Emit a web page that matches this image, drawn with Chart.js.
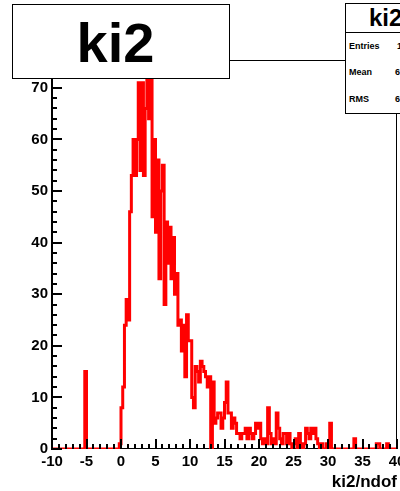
<!DOCTYPE html>
<html><head><meta charset="utf-8">
<script src="https://cdn.jsdelivr.net/npm/chart.js@4.4.0/dist/chart.umd.min.js"></script>
<style>
html,body{margin:0;padding:0;background:#fff;}
#wrap{position:relative;width:400px;height:491px;overflow:hidden;background:#fff;}
#c{position:absolute;left:0;top:0;}
.box{position:absolute;background:#fff;border:1px solid #000;box-sizing:border-box;font-family:"Liberation Sans",Arial,Helvetica,sans-serif;font-weight:bold;color:#000;}
.t{position:absolute;white-space:nowrap;}
</style></head>
<body>
<div id="wrap">
<canvas id="c" width="400" height="491"></canvas>
<div class="box" style="left:12px;top:4px;width:218px;height:75px;">
  <div class="t" style="left:-11px;right:0;top:10px;text-align:center;font-size:56px;line-height:56px;">ki2</div>
</div>
<div class="box" style="left:345px;top:3px;width:80px;height:111px;">
  <div class="t" style="left:23px;top:2px;font-size:24px;line-height:24px;">ki2</div>
  <div style="position:absolute;left:0;right:0;top:28px;height:1px;background:#000;"></div>
  <div class="t" style="left:3px;top:38px;font-size:9px;line-height:9px;">Entries</div>
  <div class="t" style="left:51px;top:38px;font-size:9px;line-height:9px;">1563</div>
  <div class="t" style="left:3px;top:64px;font-size:9px;line-height:9px;">Mean</div>
  <div class="t" style="left:49px;top:64px;font-size:9px;line-height:9px;">6.473</div>
  <div class="t" style="left:3px;top:91px;font-size:9px;line-height:9px;">RMS</div>
  <div class="t" style="left:49px;top:91px;font-size:9px;line-height:9px;">6.035</div>
</div>
</div>
<script>
// Histogram definition
const xMin = -10;
const xMax = 40;
const binWidth = 0.25;
const yMax = 75.4;
const xTickStep = 5;
const xMinorStep = 1;
const yTickStep = 10;
const yMinorStep = 2;
const xTitle = 'ki2/ndof';

// bin contents, 200 bins of 0.25 starting at -10
const countsNeg10to5 = [0,0,0,0,0,0,0,0,0,0,0,0,0,0,0,0,0,0,0,0];
const countsNeg5to0  = [15,0,0,0,0,0,0,0,0,0,0,0,0,0,0,0,0,0,0,0];
const counts0to5     = [1,8,12,24,29,25,46,53,60,53,60,71,54,71,53,66,74,64,74,45];
const counts5to10    = [60,42,56,33,50,55,28,44,36,43,33,41,30,34,24,25,19,24,14,26];
const counts10to15   = [21,21,10,8,16,15,13,17,16,15,14,12,14,0,13,5,6,7,7,4];
const counts15to20   = [6,9,13,7,7,4,6,5,3,3,2,3,3,4,2,4,3,2,3,5];
const counts20to25   = [4,5,2,1,2,1,8,3,1,2,1,7,4,2,1,3,3,1,3,1];
const counts25to30   = [0,1,2,0,3,1,0,1,4,3,2,4,3,4,2,1,0,1,0,0];
const counts30to35   = [1,0,5,0,0,0,0,0,0,0,0,0,0,0,0,0,2,0,0,0];
const counts35to40   = [0,0,0,0,0,0,0,0,0,1,1,0,0,0,0,1,0,0,0,0];

const counts = [].concat(countsNeg10to5, countsNeg5to0, counts0to5, counts5to10,
  counts10to15, counts15to20, counts20to25, counts25to30, counts30to35, counts35to40);

const points = counts.map((c, i) => ({x: xMin + i * binWidth, y: c}));
points.push({x: xMin + counts.length * binWidth, y: counts[counts.length - 1]});

function frameBox(chart) {
  const sx = chart.scales.x, sy = chart.scales.y;
  return {
    L: Math.round(sx.getPixelForValue(xMin)),
    R: Math.round(sx.getPixelForValue(xMax)),
    B: Math.round(sy.getPixelForValue(0)),
    T: Math.round(sy.getPixelForValue(yMax))
  };
}

const framePlugin = {
  id: 'rootFrame',
  beforeDatasetsDraw(chart) {
    const ctx = chart.ctx;
    const {L, R, B, T} = frameBox(chart);
    ctx.save();
    ctx.fillStyle = '#000';
    ctx.fillRect(L, T, R - L, 1);       // top
    ctx.fillRect(R - 1, T, 1, B - T);   // right
    ctx.fillRect(L, B - 1, R - L, 1);   // bottom
    ctx.restore();
  },
  afterDatasetsDraw(chart) {
    const ctx = chart.ctx;
    const sx = chart.scales.x, sy = chart.scales.y;
    const {L, R, B, T} = frameBox(chart);
    ctx.save();
    ctx.fillStyle = '#000';
    ctx.fillRect(L - 1, T, 2, B - T + 1);   // left axis
    for (let v = xMin; v <= xMax + 1e-9; v += xMinorStep) {
      const px = Math.round(sx.getPixelForValue(v));
      const len = (Math.abs(v % xTickStep) < 1e-9) ? 10 : 5;
      ctx.fillRect(px - 1, B - len, 2, len);
    }
    for (let v = 0; v <= yMax; v += yMinorStep) {
      const py = Math.round(sy.getPixelForValue(v));
      const len = (Math.abs(v % yTickStep) < 1e-9) ? 10 : 5;
      ctx.fillRect(L, py - 1, len, 2);
    }
    ctx.restore();
  }
};

const tickFont = {family: '"Liberation Sans", Arial, sans-serif', weight: 'bold', size: 15};

new Chart(document.getElementById('c'), {
  type: 'line',
  data: {
    datasets: [{
      data: points,
      stepped: 'after',
      borderColor: '#ff0000',
      borderWidth: 3,
      pointRadius: 0,
      fill: false,
      tension: 0
    }]
  },
  options: {
    responsive: false,
    animation: false,
    layout: {padding: {top: 60, right: 3, left: 0, bottom: 0}},
    plugins: {legend: {display: false}, tooltip: {enabled: false}, title: {display: false}},
    scales: {
      x: {
        type: 'linear', min: xMin, max: xMax,
        grid: {display: false, drawTicks: false},
        border: {display: false},
        ticks: {stepSize: xTickStep, font: tickFont, color: '#000', padding: 4, maxRotation: 0, autoSkip: false},
        title: {display: true, text: xTitle, align: 'end', color: '#000',
          font: {family: '"Liberation Sans", Arial, sans-serif', weight: 'bold', size: 17}, padding: {top: 0, bottom: -2}},
        afterFit(scale) { scale.height = 42; scale.paddingLeft = 0; scale.paddingRight = 0; }
      },
      y: {
        type: 'linear', min: 0, max: yMax,
        grid: {display: false, drawTicks: false},
        border: {display: false},
        ticks: {stepSize: yTickStep, includeBounds: false, font: tickFont, color: '#000', padding: 4},
        afterFit(scale) { scale.width = 52; scale.paddingTop = 0; scale.paddingBottom = 0; }
      }
    }
  },
  plugins: [framePlugin]
});
</script>
</body></html>
